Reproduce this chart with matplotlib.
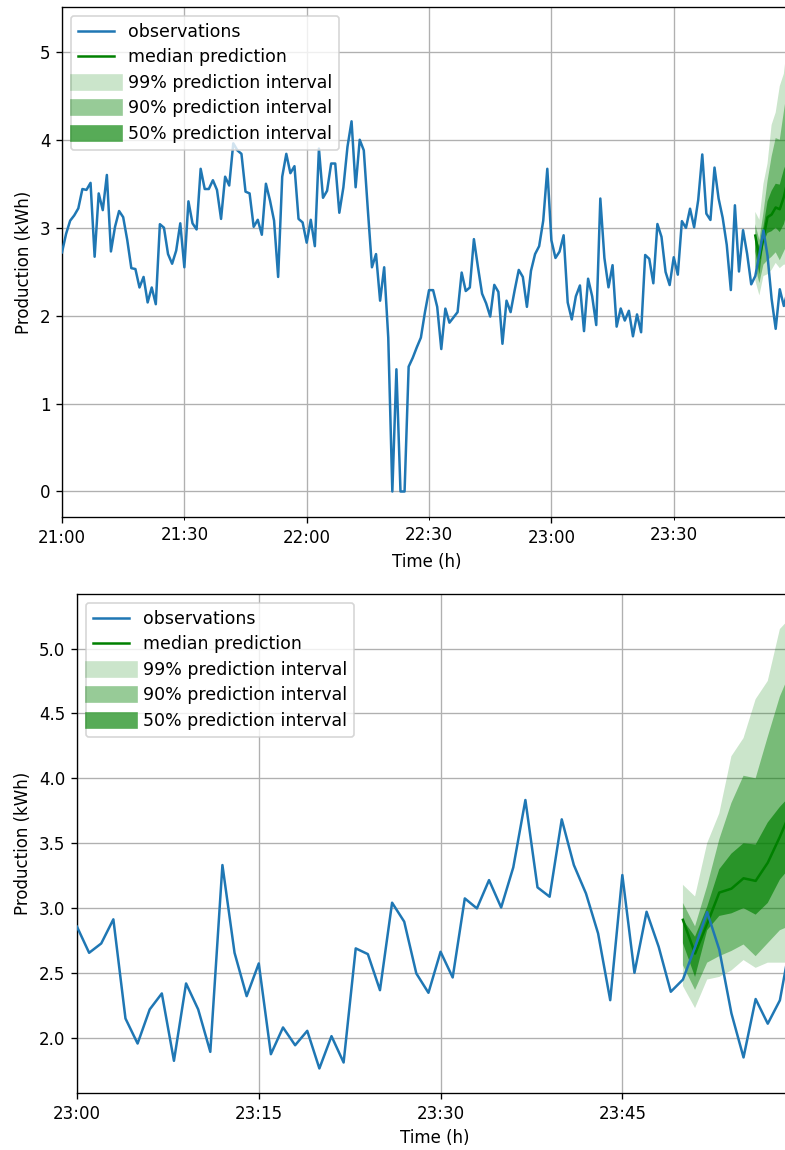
import numpy as np
import pandas as pd
import matplotlib
matplotlib.use("Agg")
import matplotlib.pyplot as plt
import matplotlib.dates as mdates
from matplotlib.lines import Line2D

# Observed production, one value per minute from 21:00 to 23:59
obs_2100_2259 = [
    2.72, 2.93, 3.08, 3.14, 3.22, 3.44, 3.43, 3.51, 2.67, 3.39,
    3.20, 3.60, 2.73, 3.01, 3.19, 3.12, 2.86, 2.54, 2.53, 2.32,
    2.44, 2.15, 2.32, 2.13, 3.04, 3.00, 2.70, 2.59, 2.74, 3.05,
    2.55, 3.30, 3.05, 2.98, 3.67, 3.44, 3.44, 3.54, 3.43, 3.10,
    3.58, 3.48, 3.96, 3.88, 3.84, 3.41, 3.39, 3.01, 3.09, 2.92,
    3.50, 3.31, 3.08, 2.44, 3.58, 3.84, 3.62, 3.70, 3.10, 3.06,
    2.83, 3.09, 2.79, 3.90, 3.34, 3.42, 3.73, 3.73, 3.17, 3.46,
    3.92, 4.21, 3.46, 4.00, 3.88, 3.20, 2.55, 2.70, 2.17, 2.55,
    1.75, 0.00, 1.39, 0.00, 0.00, 1.42, 1.52, 1.64, 1.75, 2.04,
    2.29, 2.29, 2.10, 1.62, 2.08, 1.92, 1.98, 2.04, 2.49, 2.28,
    2.32, 2.87, 2.55, 2.25, 2.14, 1.99, 2.35, 2.27, 1.68, 2.17,
    2.04, 2.29, 2.52, 2.44, 2.10, 2.51, 2.70, 2.79, 3.08, 3.67,
]
obs_2300_2359 = [
    2.857, 2.656, 2.728, 2.914, 2.150, 1.957, 2.220, 2.343, 1.824, 2.420,
    2.220, 1.893, 3.332, 2.656, 2.322, 2.574, 1.875, 2.081, 1.944, 2.055,
    1.765, 2.014, 1.811, 2.690, 2.646, 2.368, 3.042, 2.896, 2.497, 2.348,
    2.664, 2.466, 3.075, 2.998, 3.216, 3.005, 3.314, 3.833, 3.160, 3.088,
    3.684, 3.332, 3.113, 2.805, 2.291, 3.255, 2.502, 2.972, 2.702, 2.356,
    2.450, 2.700, 2.970, 2.680, 2.190, 1.850, 2.300, 2.110, 2.290, 2.800,
]

# Forecast for 23:50 .. 23:59
median_pred = [2.91, 2.65, 2.88, 3.12, 3.15, 3.23, 3.21, 3.35, 3.55, 3.77]
pi99_low = [2.40, 2.23, 2.45, 2.47, 2.52, 2.60, 2.54, 2.58, 2.58, 2.58]
pi99_high = [3.18, 3.09, 3.50, 3.73, 4.17, 4.31, 4.61, 4.75, 5.15, 5.25]
pi90_low = [2.56, 2.37, 2.58, 2.63, 2.67, 2.72, 2.63, 2.73, 2.83, 2.87]
pi90_high = [3.04, 2.86, 3.17, 3.53, 3.81, 4.02, 4.00, 4.32, 4.63, 4.85]
pi50_low = [2.73, 2.47, 2.83, 2.94, 2.96, 3.00, 2.95, 3.04, 3.22, 3.33]
pi50_high = [2.91, 2.78, 3.01, 3.30, 3.42, 3.50, 3.49, 3.66, 3.78, 3.88]

interval_labels = ["99% prediction interval", "90% prediction interval", "50% prediction interval"]
interval_alphas = [0.204, 0.407, 0.660]

obs = np.array(obs_2100_2259 + obs_2300_2359)
obs_index = pd.date_range("2021-06-01 21:00", periods=len(obs), freq="min")
pred_index = pd.date_range("2021-06-01 23:50", periods=len(median_pred), freq="min")
bands = [(pi99_low, pi99_high), (pi90_low, pi90_high), (pi50_low, pi50_high)]

fig = plt.figure(figsize=(785 / 120, 1150 / 120), dpi=120)
ax_top = fig.add_axes([62 / 785, 1 - 517 / 1150, 730 / 785, 510 / 1150])
ax_bot = fig.add_axes([77 / 785, 1 - 1093 / 1150, 715 / 785, 499 / 1150])


def draw(ax, start):
    mask = obs_index >= pd.Timestamp(start)
    for (lo, hi), a in zip(bands, interval_alphas):
        ax.fill_between(pred_index, lo, hi, facecolor="g", alpha=a, lw=0, zorder=2)
    ax.plot(pred_index, median_pred, color="g", lw=1.5, zorder=3)
    ax.plot(obs_index[mask], obs[mask], color="C0", lw=1.5, zorder=4)
    handles = [Line2D([], [], color="C0", lw=1.5), Line2D([], [], color="g", lw=1.5)]
    handles += [Line2D([], [], color="g", alpha=a, lw=10) for a in interval_alphas]
    labels = ["observations", "median prediction"] + interval_labels
    ax.legend(handles, labels, loc="upper left", fontsize=10.4,
              labelspacing=0.44, handlelength=2.1)
    ax.set_xlim(pd.Timestamp(start), pd.Timestamp("2021-06-01 23:59"))
    ax.set_xlabel("Time (h)")
    ax.set_ylabel("Production (kWh)")
    ax.xaxis.set_major_formatter(mdates.DateFormatter("%H:%M"))
    ax.xaxis.set_minor_formatter(mdates.DateFormatter("%H:%M"))
    ax.grid(True, which="both")


draw(ax_top, "2021-06-01 21:00")
ax_top.xaxis.set_major_locator(mdates.HourLocator())
ax_top.xaxis.set_minor_locator(mdates.MinuteLocator(byminute=[30]))
ax_top.set_ylim(-0.29, 5.51)
ax_top.set_yticks([0, 1, 2, 3, 4, 5])

draw(ax_bot, "2021-06-01 23:00")
ax_bot.xaxis.set_major_locator(mdates.MinuteLocator(byminute=[0, 15, 30, 45]))
ax_bot.xaxis.set_minor_locator(plt.NullLocator())
ax_bot.set_ylim(1.576, 5.42)

fig.savefig("out.png", dpi=120)
